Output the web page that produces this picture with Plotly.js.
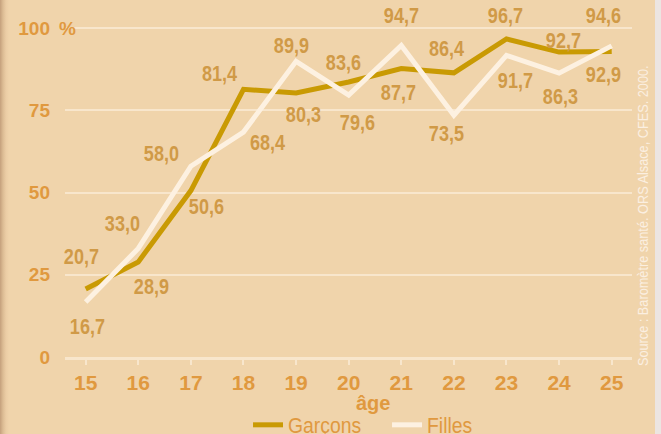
<!DOCTYPE html>
<html><head><meta charset="utf-8">
<script src="https://cdn.plot.ly/plotly-3.0.1.min.js"></script>
<style>
html,body{margin:0;padding:0;background:#f0d4ab;}
#wrap{position:relative;width:661px;height:434px;overflow:hidden;
background:linear-gradient(to right,#c4a07c 0px,#dcbc94 3px,#ebcda5 6px,#f0d4ab 9px,#f0d4ab 655px,#ece5e1 655px,#ece5e1 661px);}
#chart{position:absolute;left:0;top:0;width:661px;height:434px;}
</style></head><body><div id="wrap"><div id="chart"></div></div>
<script>
// ---- data ----
const ages = [15, 16, 17, 18, 19, 20, 21, 22, 23, 24, 25];
const garcons = [20.7, 28.9, 50.6, 81.4, 80.3, 83.6, 87.7, 86.4, 96.7, 92.7, 92.9];
const filles = [16.7, 33.0, 58.0, 68.4, 89.9, 79.6, 94.7, 73.5, 91.7, 86.3, 94.6];
const yTickVals = [0, 25, 50, 75, 100];
const yTickText = ['0', '25', '50', '75', '100'];
const seriesNames = ['Garçons', 'Filles'];
const xTitle = 'âge';
const sourceText = 'Source : Baromètre santé. ORS Alsace, CFES. 2000.';

// ---- label offsets (pixels: dx right, dy down) ----
const offG = [[-4,-32],[13,25],[16,16],[-23,-16],[7,22],[-5,-20],[-3,24],[-7,-24],[-1,-23],[4,-12],[-8,23]];
const offF = [[2,24],[-16,-25],[-29,-13],[25,10],[-5,-16],[9,27],[0,-30],[-7,18],[9,25],[1,23],[-8,-30]];

const wide = '"Liberation Sans", Arial, sans-serif';
const bgCol = '#f0d4ab';
const colG = '#c99a03';
const colF = '#fdf1e1';
const labelCol = '#d09a47';
const tickCol = '#e0993f';
const gridCol = '#f8e6cc';

const fmt = v => v.toFixed(1).replace('.', ',');

const traces = [
  {x: ages, y: garcons, name: seriesNames[0], type: 'scatter', mode: 'lines',
   line: {color: colG, width: 5}},
  {x: ages, y: filles, name: seriesNames[1], type: 'scatter', mode: 'lines',
   line: {color: colF, width: 5}}
];

const annotations = [];
function addLabels(vals, offs) {
  vals.forEach((v, i) => {
    annotations.push({x: ages[i], y: v, xref: 'x', yref: 'y', text: fmt(v), showarrow: false,
      xshift: offs[i][0], yshift: -offs[i][1],
      font: {family: wide, size: 22, color: labelCol, weight: 'bold'}});
  });
}
addLabels(garcons, offG);
addLabels(filles, offF);
const nLabels = annotations.length;

annotations.push({x: -0.0141, y: 100, xref: 'paper', yref: 'y', xanchor: 'left', text: '%', showarrow: false,
  font: {family: wide, size: 19, color: tickCol, weight: 'bold'}});
annotations.push({x: 0.543, y: -0.1326, xref: 'paper', yref: 'paper', yanchor: 'middle', text: xTitle, showarrow: false,
  font: {family: wide, size: 20, color: tickCol, weight: 'bold'}});
annotations.push({x: 1.037, y: 0.409, xref: 'paper', yref: 'paper', textangle: -90, text: sourceText, showarrow: false,
  font: {family: wide, size: 14, color: '#fbefe1'}});

const layout = {
  width: 661, height: 434,
  margin: {l: 65, r: 29, t: 10, b: 77, pad: 0, autoexpand: false},
  paper_bgcolor: 'rgba(0,0,0,0)', plot_bgcolor: 'rgba(0,0,0,0)',
  showlegend: true,
  legend: {orientation: 'h', x: 0.3228, y: -0.196, xanchor: 'left', yanchor: 'middle',
    entrywidth: 94,
    font: {family: wide, size: 22, color: tickCol}, bgcolor: 'rgba(0,0,0,0)'},
  xaxis: {range: [14.607, 25.386], tickvals: ages, showgrid: false, zeroline: false,
    showline: true, linecolor: gridCol, linewidth: 3,
    ticks: 'outside', ticklen: 5, tickwidth: 2, tickcolor: gridCol,
    ticklabelstandoff: 0, automargin: false,
    tickfont: {family: wide, size: 21, color: tickCol, weight: 'bold'}},
  yaxis: {range: [0, 105.5], tickvals: yTickVals, ticktext: yTickText, showgrid: true,
    gridcolor: gridCol, gridwidth: 2, zeroline: false, showline: false, ticks: '',
    ticklabelstandoff: 14, automargin: false,
    tickfont: {family: wide, size: 19, color: tickCol, weight: 'bold'}},
  shapes: [{type: 'rect', xref: 'paper', yref: 'y', x0: 0, x1: 0.03, y0: 98.5, y1: 101.5,
    fillcolor: bgCol, line: {width: 0}, layer: 'between'}],
  annotations: annotations
};

function squeeze(el, k, origin) {
  el.style.transformBox = 'fill-box';
  el.style.transformOrigin = origin;
  el.style.transform = 'scaleX(' + k + ')';
}

Plotly.newPlot('chart', traces, layout, {displayModeBar: false, staticPlot: true}).then(gd => {
  const anns = gd.querySelectorAll('g.annotation');
  anns.forEach((g, i) => {
    const t = g.querySelector('text');
    if (!t) return;
    if (i < nLabels) squeeze(t, 0.82, 'center');
    else if (i === nLabels + 2) squeeze(t, 0.91, 'center');
  });
  gd.querySelectorAll('text.legendtext').forEach(t => squeeze(t, 0.88, 'left'));
});
</script></body></html>
